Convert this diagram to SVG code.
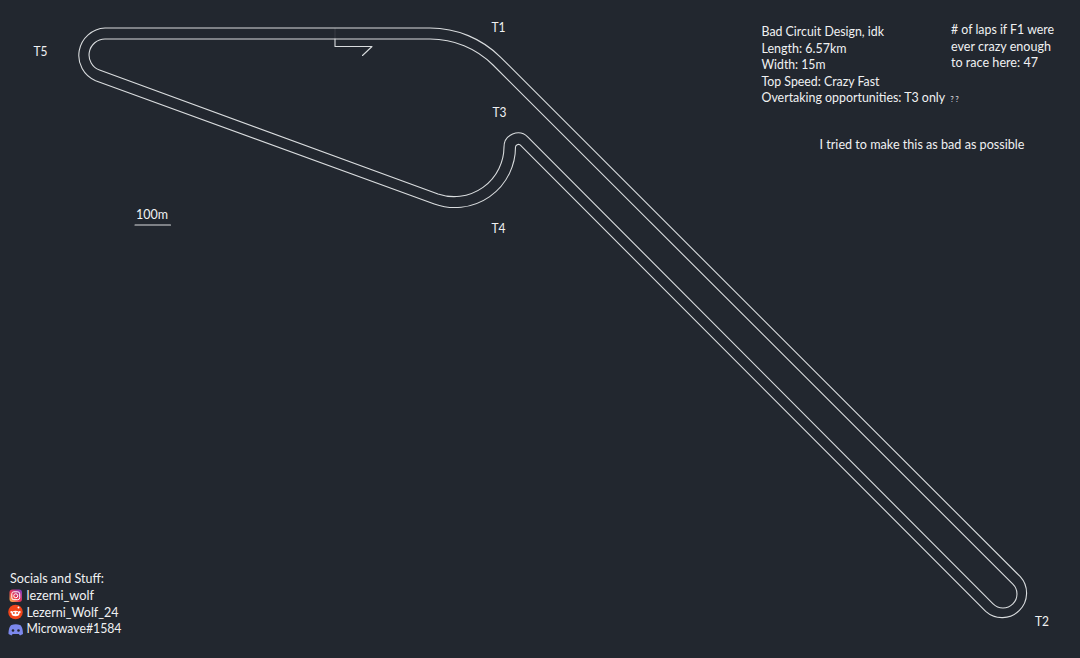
<svg xmlns="http://www.w3.org/2000/svg" width="1080" height="658" viewBox="0 0 1080 658">
<style>
.tr{fill:none;stroke:#d9dcde;stroke-width:1.1;stroke-linejoin:round;stroke-linecap:round}
text{font-family:"Lato","Open Sans","Liberation Sans",sans-serif;font-size:13px;fill:#f0f1f2}
</style>
<defs>
<linearGradient id="ig" x1="0" y1="1" x2="1" y2="0"><stop offset="0" stop-color="#fdc04e"/><stop offset=".45" stop-color="#e8344f"/><stop offset="1" stop-color="#7a3fd0"/></linearGradient>
</defs>
<rect width="1080" height="658" fill="#22272f"/>
<g id="connectors">
<path id="outer-edge" class="tr" d="M105 28H430A100 100 0 0 1 500.700 57.300L1020.300 576.700A24.500 24.500 0 0 1 985.700 611.300L520.100 144.900A3 3 0 0 0 515.500 147A60.500 60.500 0 0 1 434.300 203.900L95.600 80.800A27.500 27.500 0 0 1 105 28Z"/>
<path id="inner-edge" class="tr" d="M105 39H430A89 89 0 0 1 493 65L1012.900 584.100A14 14 0 0 1 993.100 603.900L527.900 137.100A14 14 0 0 0 504 147A50 50 0 0 1 438 194L99.500 70A16 16 0 0 1 105 39Z"/>
<path id="start-line" class="tr" d="M335 39V46.500H372L362.500 55.500"/>
<path id="start-tick" d="M335 28V39" fill="none" stroke="#d9dcde" stroke-width=".8" opacity=".15"/>
<path id="scale-bar" class="tr" d="M135 225H170.500"/>
</g>
<g id="labels">
<text x="491.500" y="31.500" textLength="14" lengthAdjust="spacingAndGlyphs">T1</text>
<text x="1035" y="625.500" textLength="14" lengthAdjust="spacingAndGlyphs">T2</text>
<text x="492.500" y="116.500" textLength="14" lengthAdjust="spacingAndGlyphs">T3</text>
<text x="491.500" y="232.500" textLength="14" lengthAdjust="spacingAndGlyphs">T4</text>
<text x="33.500" y="55.500" textLength="14" lengthAdjust="spacingAndGlyphs">T5</text>
<text x="136" y="219" textLength="32" lengthAdjust="spacingAndGlyphs">100m</text>
</g>
<g id="info">
<text x="761.500" y="36" textLength="122.500" lengthAdjust="spacingAndGlyphs">Bad Circuit Design, idk</text>
<text x="761.500" y="53" textLength="85" lengthAdjust="spacingAndGlyphs">Length: 6.57km</text>
<text x="761.500" y="69" textLength="64" lengthAdjust="spacingAndGlyphs">Width: 15m</text>
<text x="761.500" y="86" textLength="118" lengthAdjust="spacingAndGlyphs">Top Speed: Crazy Fast</text>
<text x="761.500" y="102" style="font-size:12.4px">Overtaking opportunities: T3 only</text>
<text x="950.500" y="102" style="font-size:7px">? ?</text>
<text x="951" y="34" textLength="103" lengthAdjust="spacingAndGlyphs"># of laps if F1 were</text>
<text x="951" y="51" textLength="100" lengthAdjust="spacingAndGlyphs">ever crazy enough</text>
<text x="951" y="67" textLength="87" lengthAdjust="spacingAndGlyphs">to race here: 47</text>
<text x="819.500" y="148.500" textLength="205" lengthAdjust="spacingAndGlyphs">I tried to make this as bad as possible</text>
</g>
<g id="socials">
<text x="10" y="583" textLength="94" lengthAdjust="spacingAndGlyphs">Socials and Stuff:</text>
<g id="instagram-icon">
<rect x="9.500" y="589.500" width="12.500" height="12.500" rx="3" fill="url(#ig)"/>
<rect x="11.800" y="591.800" width="7.900" height="7.900" rx="2" fill="none" stroke="#fff" stroke-width="1"/>
<circle cx="15.750" cy="595.750" r="2" fill="none" stroke="#fff" stroke-width="1"/>
</g>
<text x="26.500" y="600" textLength="67.500" lengthAdjust="spacingAndGlyphs">lezerni_wolf</text>
<g id="reddit-icon">
<circle cx="15.500" cy="612" r="7.300" fill="#f0451a"/>
<ellipse cx="15.500" cy="613.500" rx="4" ry="2.700" fill="#fff"/>
<circle cx="11.300" cy="612" r="1" fill="#fff"/>
<circle cx="19.700" cy="612" r="1" fill="#fff"/>
<circle cx="18.500" cy="607.500" r="1" fill="#fff"/>
<circle cx="13.900" cy="613" r=".9" fill="#f0451a"/>
<circle cx="17.100" cy="613" r=".9" fill="#f0451a"/>
</g>
<text x="26.500" y="617" textLength="92" lengthAdjust="spacingAndGlyphs">Lezerni_Wolf_24</text>
<g id="discord-icon">
<path d="M11.500 625C14 624 17.500 624 20 625C21.500 625.500 23 629 23 634L20 635.500L18.800 634H12.700L11.500 635.500L8.500 634C8.500 629 10 625.500 11.500 625Z" fill="#7c88ec"/>
<circle cx="13" cy="630.500" r="1.300" fill="#22272f"/>
<circle cx="18.500" cy="630.500" r="1.300" fill="#22272f"/>
</g>
<text x="26.500" y="633" textLength="95" lengthAdjust="spacingAndGlyphs">Microwave#1584</text>
</g>
</svg>
